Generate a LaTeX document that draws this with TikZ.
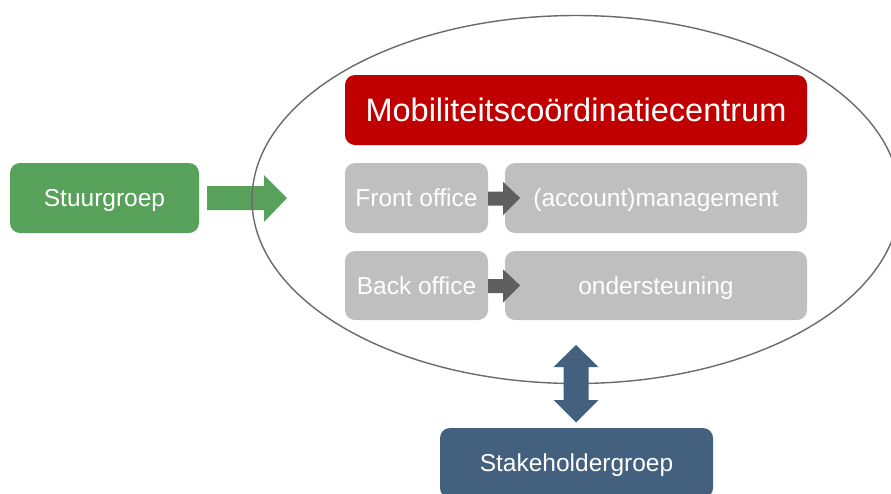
\documentclass[tikz,border=0pt]{standalone}
\usepackage{fontspec}
\setmainfont{Liberation Sans}
\usetikzlibrary{calc,shapes.geometric}
\definecolor{steergreen}{HTML}{57A15A}
\definecolor{centrered}{HTML}{C00000}
\definecolor{officegray}{HTML}{BFBFBF}
\definecolor{arrowgray}{HTML}{5F5F5F}
\definecolor{stakeblue}{HTML}{44607F}
\definecolor{rimgray}{HTML}{6A6A6A}
\begin{document}
\begin{tikzpicture}[x=1pt,y=-1pt,
  blockbox/.style={rounded corners=10pt, text=white, inner sep=0pt,
    font=\fontsize{24.5}{28}\selectfont, text height=17.5pt, text depth=0pt},
  greenbox/.style={blockbox, fill=steergreen},
  redbox/.style={blockbox, fill=centrered, font=\fontsize{32.5}{36}\selectfont,
    text height=23.3pt},
  graybox/.style={blockbox, fill=officegray},
  bluebox/.style={blockbox, fill=stakeblue}]
\useasboundingbox (0,0) rectangle (891,493);
\clip (0,0) rectangle (891,493);

% steering group and its arrow towards the centre
\node[greenbox, minimum width=189pt, minimum height=70pt] (stuur) at (104.5,198) {Stuurgroep};
\fill[steergreen] (207,186) -- (264,186) -- (264,175) -- (287,198)
  -- (264,222) -- (264,210) -- (207,210) -- cycle;

% the centre as an ellipse
\node[draw=rimgray, line width=1.4pt, ellipse, minimum width=648pt, minimum height=368pt, inner sep=0pt] (centre) at (576,199.5) {};

% title and the two offices
\node[redbox, minimum width=462pt, minimum height=70pt] (mcc) at (576,110) {Mobiliteitscoördinatiecentrum};
\node[graybox, minimum width=143pt, minimum height=70pt] (front) at (416.5,198) {Front office};
\node[graybox, minimum width=302pt, minimum height=70pt] (acct) at (656,198) {(account)management};
\node[graybox, minimum width=143pt, minimum height=69pt] (back) at (416.5,285.5) {Back office};
\node[graybox, minimum width=302pt, minimum height=69pt] (onder) at (656,285.5) {ondersteuning};

% small arrows from office to task
\foreach \src in {front,back}{
  \fill[arrowgray] ($(\src.east)+(0,-6.5)$) -- ++(15,0) -- ++(0,-9.5) -- ++(17,16)
    -- ++(-17,17) -- ++(0,-9.5) -- ++(-15,0) -- cycle;
}

% stakeholder group with the two-way arrow
\node[bluebox, minimum width=273pt, minimum height=70pt] (stake) at (576.5,463) {Stakeholdergroep};
\fill[stakeblue] (576,345) -- (598.5,367) -- (588.5,367) -- (588.5,400) -- (598.5,400)
  -- (576,422.5) -- (553.5,400) -- (563.5,400) -- (563.5,367) -- (553.5,367) -- cycle;
\end{tikzpicture}
\end{document}
